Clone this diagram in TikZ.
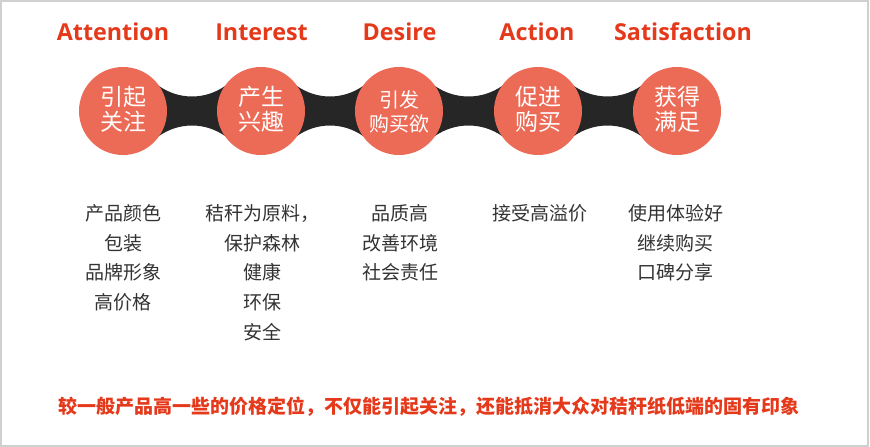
\documentclass[tikz,border=0pt]{standalone}
\usepackage{fontspec}
\newfontfamily\cjk{Noto Sans CJK SC}
\newfontfamily\headfont{Open Sans}
\usetikzlibrary{calc}
\definecolor{headred}{HTML}{E5391B}
\definecolor{circ}{HTML}{EC6B56}
\definecolor{band}{HTML}{262626}
\definecolor{listgray}{HTML}{333333}
\definecolor{framegray}{HTML}{D0D0D0}
\begin{document}
\begin{tikzpicture}[x=1pt,y=-1pt,
 heading/.style={font=\headfont\bfseries\fontsize{23.3}{23.3}\selectfont, text=headred, anchor=base, inner sep=0},
 stage/.style={circle, fill=circ, minimum size=88pt, inner sep=0},
 stagetext/.style={font=\cjk\fontsize{23}{23}\selectfont, text=white, anchor=base, inner sep=0},
 smallstagetext/.style={stagetext, font=\cjk\fontsize{20}{20}\selectfont},
 item/.style={font=\cjk\fontsize{19}{19}\selectfont, text=listgray, anchor=base, inner sep=0},
 note/.style={font=\cjk\bfseries\fontsize{19}{19}\selectfont, text=headred, anchor=base, inner sep=0},
 link/.style={fill=band}]
\useasboundingbox (0,0) rectangle (870,447);
\fill[white] (0,0) rectangle (870,447);
\draw[framegray, line width=1.5pt] (0.75,0.75) rectangle (868,446);

% headings
\node[heading] (h1) at (113,40.5) {Attention};
\node[heading] (h2) at (261.5,40.5) {Interest};
\node[heading] (h3) at (399.5,40.5) {Desire};
\node[heading] (h4) at (537,40.5) {Action};
\node[heading] (h5) at (683,40.5) {Satisfaction};

% stage centres
\coordinate (s1) at (123,111);
\coordinate (s2) at (261,111);
\coordinate (s3) at (399,111);
\coordinate (s4) at (538,111);
\coordinate (s5) at (677,111);

% dark links
\foreach \a/\b in {s1/s2,s2/s3,s3/s4,s4/s5}
  \fill[link] (\a) -- ($(\a)+(36,-25)$) .. controls ($(\a)+(56,-11)$) and ($(\b)+(-56,-11)$) .. ($(\b)+(-36,-25)$)
     -- (\b) -- ($(\b)+(-36,25)$) .. controls ($(\b)+(-56,11)$) and ($(\a)+(56,11)$) .. ($(\a)+(36,25)$) -- cycle;

% circles
\node[stage] (c1) at (s1) {};
\node[stage] (c2) at (s2) {};
\node[stage] (c3) at (s3) {};
\node[stage] (c4) at (s4) {};
\node[stage] (c5) at (s5) {};

\node[stagetext] (t1a) at ($(s1)+(0.5,-5.3)$) {引起};
\node[stagetext] (t1b) at ($(s1)+(0.5,19.7)$) {关注};
\node[stagetext] (t2a) at ($(s2)+(0,-5.3)$) {产生};
\node[stagetext] (t2b) at ($(s2)+(0,19.7)$) {兴趣};
\node[smallstagetext] (t3a) at ($(s3)+(0,-3.4)$) {引发};
\node[smallstagetext] (t3b) at ($(s3)+(0,20.1)$) {购买欲};
\node[stagetext] (t4a) at ($(s4)+(0,-5.3)$) {促进};
\node[stagetext] (t4b) at ($(s4)+(0,19.7)$) {购买};
\node[stagetext] (t5a) at ($(s5)+(0,-5.3)$) {获得};
\node[stagetext] (t5b) at ($(s5)+(0,19.7)$) {满足};

% lists
\foreach \t [count=\i] in {产品颜色,包装,品牌形象,高价格}
  \node[item] (la\i) at (123,220.7+29.6*\i-29.6) {\t};
\foreach \t [count=\i] in {秸秆为原料，,保护森林,健康,环保,安全}
  \node[item] (lb\i) at (262,220.7+29.6*\i-29.6) {\t};
\foreach \t [count=\i] in {品质高,改善环境,社会责任}
  \node[item] (lc\i) at (400,220.7+29.6*\i-29.6) {\t};
\foreach \t [count=\i] in {接受高溢价}
  \node[item] (ld\i) at (539.5,220.7+29.6*\i-29.6) {\t};
\foreach \t [count=\i] in {使用体验好,继续购买,口碑分享}
  \node[item] (le\i) at (675.5,220.7+29.6*\i-29.6) {\t};

% bottom note
\node[note] (n) at (429,413.2) {较一般产品高一些的价格定位，不仅能引起关注，还能抵消大众对秸秆纸低端的固有印象};
\end{tikzpicture}
\end{document}
